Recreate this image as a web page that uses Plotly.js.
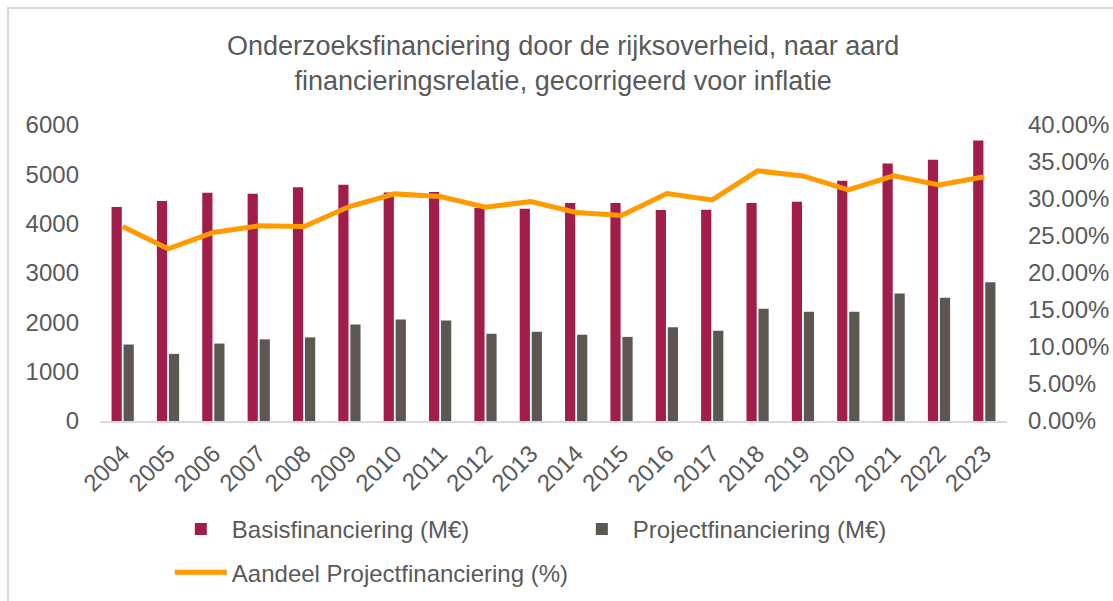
<!DOCTYPE html>
<html>
<head>
<meta charset="utf-8">
<script src="https://cdn.plot.ly/plotly-3.0.1.min.js"></script>
<style>
  html, body { margin: 0; padding: 0; background: #ffffff; }
  #chart { position: absolute; left: 0; top: 0; width: 1113px; height: 601px; }
  #frame { position: absolute; left: 7px; top: 7px; width: 1120px; height: 610px;
           border-left: 2px solid #d9d9d9; border-top: 2px solid #d9d9d9; pointer-events: none; }
</style>
</head>
<body>
<div id="chart"></div>
<div id="frame"></div>
<script>
const years = ['2004','2005','2006','2007','2008','2009','2010','2011','2012','2013',
               '2014','2015','2016','2017','2018','2019','2020','2021','2022','2023'];
const basisfinanciering = [4340, 4460, 4625, 4605, 4740, 4790, 4630, 4640, 4320, 4300,
                           4420, 4420, 4275, 4280, 4420, 4445, 4870, 5220, 5295, 5685];
const projectfinanciering = [1550, 1360, 1570, 1655, 1695, 1955, 2055, 2035, 1770, 1810,
                             1750, 1705, 1900, 1830, 2275, 2215, 2215, 2585, 2500, 2810];
const aandeelProject = [0.2628, 0.2327, 0.2547, 0.2637, 0.2628, 0.2898, 0.3069, 0.3033, 0.2890, 0.2965,
                        0.2817, 0.2776, 0.3073, 0.2988, 0.3380, 0.3312, 0.3123, 0.3312, 0.3190, 0.3300];
const seriesNames = ['Basisfinanciering (M€)', 'Projectfinanciering (M€)', 'Aandeel Projectfinanciering (%)'];
const titleText = 'Onderzoeksfinanciering door de rijksoverheid, naar aard<br>financieringsrelatie, gecorrigeerd voor inflatie';

const FONT = '"Liberation Sans", Arial, sans-serif';
const TXT = '#595959';

const traces = [
  { type: 'bar', x: years, y: basisfinanciering, name: seriesNames[0],
    marker: { color: '#A01D4C' }, legend: 'legend' },
  { type: 'bar', x: years, y: projectfinanciering, name: seriesNames[1],
    marker: { color: '#5C5750' }, legend: 'legend' },
  { type: 'scatter', mode: 'lines', x: years, y: aandeelProject, name: seriesNames[2],
    yaxis: 'y2', line: { color: '#FF9A00', width: 5 }, legend: 'legend2' }
];

const layout = {
  width: 1113, height: 601,
  margin: { l: 100, r: 106, t: 125, b: 180, pad: 0, autoexpand: false },
  paper_bgcolor: '#ffffff', plot_bgcolor: '#ffffff',
  font: { family: FONT, color: TXT, size: 24 },
  title: { text: titleText, font: { family: FONT, size: 27, color: TXT },
           x: 0.506, xanchor: 'center', y: 1 - 55/601, yanchor: 'middle', yref: 'container' },
  barmode: 'group', bargap: 0.47, bargroupgap: 0.15,
  showlegend: true,
  xaxis: { type: 'category', showline: true, linecolor: '#d9d9d9', linewidth: 2,
           ticks: '', showgrid: false, zeroline: false, tickangle: -45, automargin: false,
           ticklabelstandoff: 7, tickfont: { family: FONT, size: 24, color: TXT } },
  yaxis: { range: [0, 6000], dtick: 1000, showgrid: false, zeroline: false, showline: false,
           automargin: false, ticks: '', ticklabelstandoff: 20,
           tickfont: { family: FONT, size: 24, color: TXT } },
  yaxis2: { overlaying: 'y', side: 'right', range: [0, 0.4], dtick: 0.05, tickformat: '.2%',
            automargin: false, showgrid: false, zeroline: false, showline: false, ticks: '',
            ticklabelstandoff: 20, tickfont: { family: FONT, size: 24, color: TXT } },
  legend: { orientation: 'h', x: 0.077, xanchor: 'left', y: -0.29, yanchor: 'top',
            itemwidth: 52, entrywidth: 334, entrywidthmode: 'pixels', traceorder: 'normal',
            font: { family: FONT, size: 24, color: TXT }, bgcolor: 'rgba(0,0,0,0)' },
  legend2: { orientation: 'h', x: 0.077, xanchor: 'left', y: -0.436, yanchor: 'top',
             itemwidth: 52, font: { family: FONT, size: 24, color: TXT }, bgcolor: 'rgba(0,0,0,0)' }
};

Plotly.newPlot('chart', traces, layout, { displayModeBar: false, staticPlot: true });
</script>
</body>
</html>
